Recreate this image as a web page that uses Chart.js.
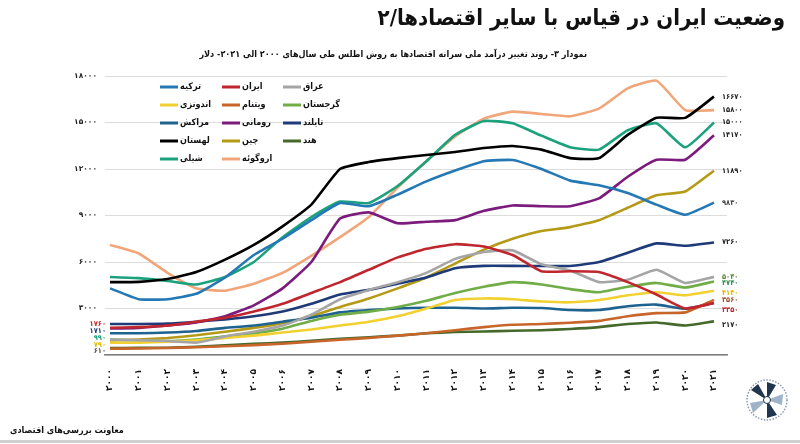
<!DOCTYPE html>
<html lang="fa">
<head>
<meta charset="utf-8">
<script src="https://cdn.jsdelivr.net/npm/chart.js@4/dist/chart.umd.min.js"></script>
<style>
  html, body { margin: 0; padding: 0; background: #fff; }
  #wrap { position: relative; width: 800px; height: 444px; overflow: hidden; font-family: "DejaVu Sans", sans-serif; }
  #chart { position: absolute; left: 0; top: 0; }
  .title { position: absolute; right: 15px; top: 5px; font-family: "DejaVu Sans Condensed", "DejaVu Sans"; font-size: 22px; font-weight: bold; direction: rtl; color: #111; }
  .subtitle { position: absolute; left: 215px; width: 372px; top: 49px; text-align: center; font-family: "DejaVu Sans Condensed", "DejaVu Sans"; font-size: 9px; font-weight: bold; direction: rtl; color: #111; white-space: nowrap; }
  .footer { position: absolute; left: 10px; top: 425px; font-family: "DejaVu Sans Condensed", "DejaVu Sans"; font-size: 9px; font-weight: bold; direction: rtl; color: #111; }
  .bottomline { position: absolute; left: 0; top: 440px; width: 800px; height: 3px; background: #cfcfcf; }
  .logo { position: absolute; left: 745px; top: 378px; }
</style>
</head>
<body>
<div id="wrap">
  <canvas id="chart" width="800" height="444"></canvas>
  <div class="title">وضعیت ایران در قیاس با سایر اقتصادها/۲</div>
  <div class="subtitle">نمودار ۳- روند تغییر درآمد ملی سرانه اقتصادها به روش اطلس طی سال‌های ۲۰۰۰ الی ۲۰۲۱- دلار</div>
  <div class="footer">معاونت بررسی‌های اقتصادی</div>
  <svg class="logo" width="44" height="44" viewBox="0 0 44 44">
    <circle cx="22" cy="22" r="20" fill="#fff" stroke="#8a9bb0" stroke-width="1.5" stroke-dasharray="1.5 1.5"/>
    <path d="M22 22 L22 4 L31 7 Z" fill="#1f3550"/>
    <path d="M22 22 L38 16 L37 27 Z" fill="#9fb3c8"/>
    <path d="M22 22 L32 37 L22 40 Z" fill="#1f3550"/>
    <path d="M22 22 L8 35 L5 25 Z" fill="#9fb3c8"/>
    <path d="M22 22 L6 12 L13 6 Z" fill="#1f3550"/>
    <circle cx="22" cy="22" r="3.5" fill="#fff" stroke="#1f3550" stroke-width="1"/>
  </svg>
  <div class="bottomline"></div>
</div>
<script>
// years on the x axis
const years = [2000, 2001, 2002, 2003, 2004, 2005, 2006, 2007, 2008, 2009, 2010,
               2011, 2012, 2013, 2014, 2015, 2016, 2017, 2018, 2019, 2020, 2021];

// GNI per capita, Atlas method (USD)
const turkey    = [4300, 3600, 3600, 3950, 5000, 6450, 7500, 8700, 9800, 9600, 10350, 11200, 11900, 12500, 12580, 12000, 11250, 10950, 10450, 9700, 9050, 9830];
const iran      = [1760, 1800, 1900, 2150, 2400, 2800, 3300, 4000, 4700, 5500, 6300, 6850, 7150, 7000, 6450, 5400, 5400, 5350, 4700, 3900, 3000, 3350];
const iraq      = [1000, 950, 900, 800, 1200, 1500, 1900, 2600, 3600, 4200, 4700, 5300, 6200, 6650, 6750, 5850, 5450, 4700, 4850, 5500, 4650, 5040];
const indonesia = [790, 800, 850, 950, 1100, 1250, 1450, 1650, 1900, 2150, 2500, 3000, 3550, 3650, 3600, 3450, 3400, 3550, 3850, 4050, 3850, 4140];
const vietnam   = [400, 420, 450, 500, 560, 640, 730, 850, 980, 1100, 1250, 1400, 1600, 1800, 1950, 2000, 2080, 2200, 2500, 2700, 2750, 3560];
const georgia   = [990, 950, 900, 1000, 1200, 1400, 1700, 2200, 2600, 2800, 3100, 3500, 4000, 4400, 4700, 4550, 4250, 4050, 4400, 4650, 4350, 4740];
const morocco   = [1400, 1400, 1450, 1550, 1750, 1900, 2150, 2400, 2750, 2900, 3000, 3050, 3050, 3000, 3050, 3030, 2900, 2900, 3150, 3250, 2980, 3350];
const romania   = [1710, 1750, 1900, 2100, 2500, 3200, 4300, 6000, 8800, 9200, 8500, 8600, 8700, 9300, 9650, 9600, 9600, 10100, 11500, 12600, 12600, 14170];
const thailand  = [2000, 2000, 2030, 2150, 2300, 2500, 2800, 3300, 3900, 4200, 4600, 5000, 5600, 5750, 5750, 5740, 5740, 6000, 6600, 7200, 7050, 7260];
const poland    = [4700, 4720, 4900, 5350, 6150, 7100, 8300, 9700, 12000, 12450, 12700, 12900, 13100, 13350, 13480, 13250, 12700, 12700, 14200, 15300, 15300, 16670];
const china     = [940, 1000, 1100, 1270, 1500, 1750, 2050, 2500, 3100, 3650, 4300, 5000, 5900, 6800, 7500, 8000, 8250, 8700, 9500, 10300, 10550, 11890];
const india     = [450, 460, 470, 530, 620, 720, 800, 920, 1050, 1150, 1250, 1400, 1480, 1520, 1560, 1600, 1680, 1800, 2000, 2100, 1900, 2170];
const chile     = [5030, 4960, 4780, 4550, 5030, 6000, 7600, 8900, 9900, 9800, 10900, 12500, 14200, 15100, 14950, 14150, 13400, 13250, 14500, 14950, 13400, 15000];
const uruguay   = [7100, 6550, 5300, 4300, 4150, 4600, 5300, 6400, 7600, 8900, 10800, 12500, 14100, 15250, 15700, 15550, 15400, 15900, 17200, 17700, 15800, 15800];

// y axis ticks
const yTicks = [0, 3000, 6000, 9000, 12000, 15000, 18000];

// value labels written next to the first / last points
const startLabels = [1760, 1710, 990, 790, 610];
const endLabels = [16670, 15800, 15000, 14170, 11890, 9830, 7260, 5040, 4740, 4140, 3560, 3350, 2170];

// persian digits
function fa(n) {
    return String(n).replace(/\d/g, d => '۰۱۲۳۴۵۶۷۸۹'[d]);
}

const series = [
    { label: 'ترکیه',   data: turkey,    color: '#2478b4' },
    { label: 'ایران',   data: iran,      color: '#c0262d' },
    { label: 'عراق',    data: iraq,      color: '#a5a5a5' },
    { label: 'اندونزی', data: indonesia, color: '#f2d030' },
    { label: 'ویتنام',  data: vietnam,   color: '#c8652b' },
    { label: 'گرجستان', data: georgia,   color: '#70ad47' },
    { label: 'مراکش',   data: morocco,   color: '#1e6390' },
    { label: 'رومانی',  data: romania,   color: '#7b1c7d' },
    { label: 'تایلند',  data: thailand,  color: '#1f3a78' },
    { label: 'لهستان',  data: poland,    color: '#000000' },
    { label: 'چین',     data: china,     color: '#b49a16' },
    { label: 'هند',     data: india,     color: '#44692a' },
    { label: 'شیلی',    data: chile,     color: '#1ba27c' },
    { label: 'اروگوئه', data: uruguay,   color: '#f1a67a' }
];

// legend drawn inside the plot, three items per row
const legendPlugin = {
    id: 'insideLegend',
    afterDatasetsDraw(chart) {
        const ctx = chart.ctx;
        const cols = [160, 222, 283];
        ctx.save();
        ctx.font = 'bold 9px "DejaVu Sans Condensed", "DejaVu Sans"';
        ctx.textBaseline = 'middle';
        ctx.textAlign = 'left';
        chart.data.datasets.forEach((ds, i) => {
            const x = cols[i % 3];
            const y = 87 + Math.floor(i / 3) * 18;
            ctx.strokeStyle = ds.borderColor;
            ctx.lineWidth = 3;
            ctx.beginPath();
            ctx.moveTo(x, y);
            ctx.lineTo(x + 18, y);
            ctx.stroke();
            ctx.fillStyle = '#111';
            ctx.fillText(ds.label, x + 20, y);
        });
        ctx.restore();
    }
};

// start and end value labels
const valueLabels = {
    id: 'valueLabels',
    afterDatasetsDraw(chart) {
        const ctx = chart.ctx;
        const y = chart.scales.y;
        ctx.save();
        ctx.font = 'bold 7.5px "DejaVu Sans Condensed", "DejaVu Sans"';
        ctx.textBaseline = 'middle';
        const endColors = ['#222', '#222', '#222', '#222', '#222', '#444', '#222', '#5a8a3a', '#2f8f4f', '#e0b800', '#a0522d', '#c0262d', '#222'];
        const endNudge = [0, 0, 0, 0, 0, 0, 0, 0, 2, 2, 0, 7, 4];
        ctx.textAlign = 'left';
        endLabels.forEach((v, i) => {
            ctx.fillStyle = endColors[i];
            ctx.fillText(fa(v), 722, y.getPixelForValue(v) + endNudge[i]);
        });
        const startColors = ['#c0262d', '#1f3a78', '#1ba27c', '#e0b800', '#555'];
        const startNudge = [-4, 3, -2, 2, 6];
        ctx.textAlign = 'right';
        startLabels.forEach((v, i) => {
            ctx.fillStyle = startColors[i];
            ctx.fillText(fa(v), 106, y.getPixelForValue(v) + startNudge[i]);
        });
        ctx.restore();
    }
};

new Chart(document.getElementById('chart'), {
    type: 'line',
    data: {
        datasets: series.map(s => ({
            label: s.label,
            data: s.data.map((v, i) => ({ x: years[i], y: v })),
            borderColor: s.color,
            backgroundColor: s.color,
            borderWidth: 2.6,
            pointRadius: 0,
            tension: 0.15,
            fill: false
        }))
    },
    options: {
        responsive: false,
        animation: false,
        layout: { padding: { left: 0, right: 73, top: 76, bottom: 0 } },
        plugins: { legend: { display: false }, tooltip: { enabled: false } },
        scales: {
            x: {
                type: 'linear',
                min: 1999.826,
                max: 2021.452,
                afterBuildTicks(scale) {
                    scale.ticks = years.map(v => ({ value: v }));
                },
                afterFit(scale) { scale.height = 89; },
                grid: { display: false },
                border: { display: true, color: '#7f7f7f', width: 1.5 },
                ticks: {
                    autoSkip: false,
                    minRotation: 90,
                    maxRotation: 90,
                    padding: 6,
                    color: '#111',
                    font: { family: 'DejaVu Sans', size: 9, weight: 'bold' },
                    callback: v => fa(v)
                }
            },
            y: {
                min: 0,
                max: 18000,
                afterBuildTicks(scale) {
                    scale.ticks = yTicks.map(v => ({ value: v }));
                },
                afterFit(scale) { scale.width = 105; },
                grid: { color: '#dcdcdc', lineWidth: 1, drawTicks: false },
                border: { display: false },
                ticks: {
                    padding: 8,
                    color: '#222',
                    font: { family: 'DejaVu Sans', size: 7.5, weight: 'bold' },
                    callback: v => v === 0 ? '' : fa(v)
                }
            }
        }
    },
    plugins: [legendPlugin, valueLabels]
});
</script>
</body>
</html>
